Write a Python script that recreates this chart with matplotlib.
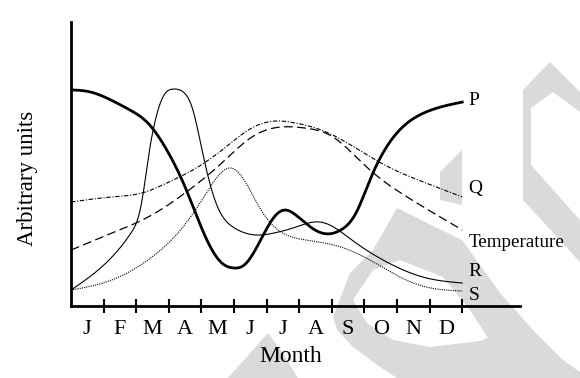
import numpy as np
import matplotlib.pyplot as plt
from matplotlib.patches import Polygon

plt.rcParams['font.family'] = ['Liberation Serif', 'DejaVu Serif']

months = ['J', 'F', 'M', 'A', 'M', 'J', 'J', 'A', 'S', 'O', 'N', 'D']

# curves (x in months, y in arbitrary units 0-100)
p_x = [0, 0.58, 1.23, 1.81, 2.36, 2.94, 3.50, 4.17, 4.63, 4.97, 5.31, 5.77, 6.23, 6.56, 6.90, 7.48, 7.88, 8.28, 8.74, 9.17, 9.76, 10.31, 10.89, 12.0]
p_y = [76.1, 75.4, 72.5, 69.0, 64.4, 54.9, 41.9, 23.2, 15.1, 13.4, 14.4, 22.2, 31.3, 33.8, 32.0, 26.8, 25.4, 26.8, 32.7, 44.4, 57.4, 64.4, 68.3, 71.8]

r_x = [0, 1.26, 1.84, 2.18, 2.36, 2.61, 2.82, 3.16, 3.44, 3.74, 4.02, 4.29, 4.54, 4.97, 5.67, 6.23, 6.90, 7.61, 7.94, 8.62, 9.75, 10.89, 12.0]
r_y = [5.6, 17.3, 25.7, 37.3, 51.4, 66.5, 73.6, 76.4, 75.4, 69.0, 54.9, 41.9, 33.8, 27.8, 25.0, 25.7, 27.8, 29.6, 28.5, 23.2, 15.1, 9.9, 8.1]

s_x = [0, 1.26, 2.36, 3.28, 3.96, 4.42, 4.88, 5.31, 5.77, 6.35, 7.24, 8.37, 9.17, 10.09, 10.89, 12.0]
s_y = [5.6, 9.2, 16.2, 25.7, 36.3, 44.4, 48.6, 44.4, 34.9, 26.8, 23.2, 20.4, 16.2, 10.2, 6.7, 5.3]

q_x = [0, 1.26, 2.18, 2.94, 3.74, 4.63, 5.55, 6.23, 6.90, 7.82, 8.74, 9.75, 10.89, 12.0]
q_y = [36.6, 38.4, 39.8, 43.3, 47.9, 54.9, 62.7, 65.1, 64.4, 61.3, 55.6, 48.9, 43.3, 38.4]

t_x = [0, 1.26, 2.36, 3.50, 4.63, 5.55, 6.23, 7.15, 8.04, 8.62, 9.17, 10.31, 12.0]
t_y = [19.7, 25.7, 31.3, 39.8, 50.4, 59.5, 62.7, 62.7, 59.5, 53.9, 47.9, 38.4, 26.8]


def smooth(xs, ys, n=400):
    # natural cubic spline through the read points
    x = np.asarray(xs, float)
    y = np.asarray(ys, float)
    k = len(x)
    h = np.diff(x)
    A = np.zeros((k, k))
    b = np.zeros(k)
    A[0, 0] = A[-1, -1] = 1
    for i in range(1, k - 1):
        A[i, i - 1] = h[i - 1]
        A[i, i] = 2 * (h[i - 1] + h[i])
        A[i, i + 1] = h[i]
        b[i] = 6 * ((y[i + 1] - y[i]) / h[i] - (y[i] - y[i - 1]) / h[i - 1])
    m = np.linalg.solve(A, b)
    xx = np.linspace(x[0], x[-1], n)
    j = np.clip(np.searchsorted(x, xx) - 1, 0, k - 2)
    t = xx - x[j]
    hj = h[j]
    a = (m[j + 1] - m[j]) / (6 * hj)
    bb = m[j] / 2
    c = (y[j + 1] - y[j]) / hj - hj * (2 * m[j] + m[j + 1]) / 6
    return xx, y[j] + c * t + bb * t ** 2 + a * t ** 3


W, H = 580, 378
fig = plt.figure(figsize=(5.8, 3.78), dpi=100)


def px(pts):
    return [(x / W, 1 - y / H) for x, y in pts]


# faint watermark behind the chart
grey = '#dadada'
wm_outer = [(397, 208), (425, 222), (462, 240), (500, 293), (533, 330), (563, 360), (580, 372),
            (580, 378), (397, 378), (380, 367), (353, 347), (337, 330), (333, 317),
            (350, 273), (373, 250)]
wm_hole = [(353, 300), (373, 270), (400, 260), (443, 277), (470, 310), (488, 338), (480, 341),
           (430, 347), (393, 340), (367, 323)]
wm_wedge = [(440, 172), (462, 150), (462, 205), (440, 200)]
wm_right = [(523, 90), (550, 62), (580, 92), (580, 112), (553, 92), (531, 108), (531, 165),
            (580, 220), (580, 262), (523, 200)]
wm_low = [(268, 333), (282, 352), (298, 378), (228, 378)]
for pts, col, z in [(wm_outer, grey, -3), (wm_hole, 'white', -2), (wm_wedge, grey, -3),
                    (wm_right, grey, -3), (wm_low, grey, -3)]:
    fig.patches.append(Polygon(px(pts), closed=True, facecolor=col, edgecolor='none',
                               transform=fig.transFigure, figure=fig, zorder=z))

ax = fig.add_axes([71 / W, 72 / H, 449 / W, 284 / H])
ax.set_facecolor('none')

ax.plot(*smooth(p_x, p_y), color='black', lw=2.0)
ax.plot(*smooth(r_x, r_y), color='black', lw=0.8)
ax.plot(*smooth(s_x, s_y), color='black', lw=0.8, linestyle=(0, (1, 1)))
ax.plot(*smooth(q_x, q_y), color='black', lw=0.8, linestyle=(0, (4, 1.5, 1, 1.5)))
ax.plot(*smooth(t_x, t_y), color='black', lw=0.9, linestyle=(0, (7, 3.5)))

ax.set_xlim(0, 449 / 32.6)
ax.set_ylim(0, 100)

for sp in ['top', 'right']:
    ax.spines[sp].set_visible(False)
ax.spines['left'].set_linewidth(2)
ax.spines['bottom'].set_linewidth(2)

ax.set_xticks(range(1, 13))
ax.set_xticklabels([])
ax.tick_params(axis='x', which='major', direction='inout', length=10, width=1.5)
ax.set_xticks(np.arange(0.5, 12, 1), minor=True)
ax.set_xticklabels(months, minor=True, fontsize=16)
ax.tick_params(axis='x', which='minor', length=0, pad=10)
ax.set_yticks([])

ax.set_xlabel('Month', fontsize=17)
ax.xaxis.label.set_va('center')
ax.xaxis.set_label_coords(220 / 449, -50 / 284)
ax.set_ylabel('Arbitrary units', fontsize=16.5)
ax.yaxis.label.set_va('center')
ax.yaxis.set_label_coords(-44 / 449, 128 / 284)

ends = [('P', p_y[-1] + 0.5, 14), ('Q', q_y[-1] + 3, 14), ('Temperature', t_y[-1] - 4.5, 13.7),
        ('R', r_y[-1] + 4, 14), ('S', s_y[-1] - 1.5, 14)]
for name, yy, fs in ends:
    ax.text(12.2, yy, name, fontsize=fs, va='center', ha='left', clip_on=False)

fig.savefig('out.png', dpi=100)
